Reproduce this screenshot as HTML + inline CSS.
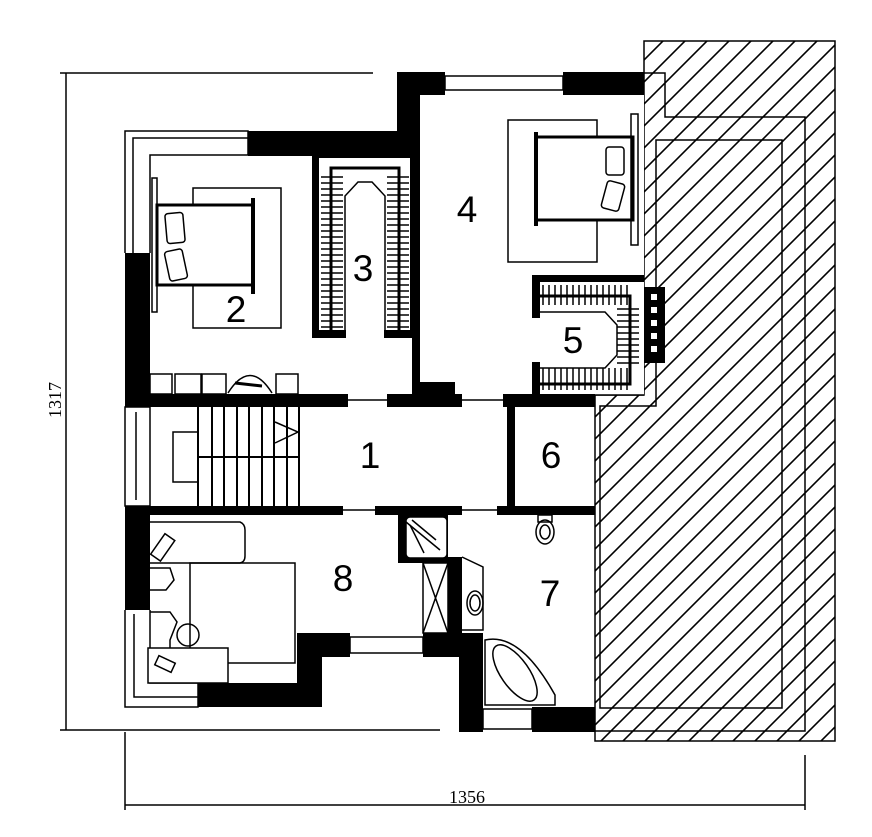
<!DOCTYPE html>
<html><head><meta charset="utf-8"><style>
html,body{margin:0;padding:0;background:#fff;}
svg{display:block;}
.n{font-family:"Liberation Sans",sans-serif;font-size:37px;fill:#000;text-anchor:middle;}
.d{font-family:"Liberation Serif",serif;font-size:18px;fill:#000;text-anchor:middle;}
</style></head><body>
<svg width="872" height="837" viewBox="0 0 872 837" xmlns="http://www.w3.org/2000/svg">
<defs>
<pattern id="h" patternUnits="userSpaceOnUse" width="22" height="22">
<path d="M-2,24 L24,-2 M-2,2 L2,-2 M20,24 L24,20" stroke="#000" stroke-width="1.6"/>
</pattern>
<pattern id="th" patternUnits="userSpaceOnUse" width="30" height="6">
<path d="M0,3 H30" stroke="#000" stroke-width="1.5"/>
</pattern>
<pattern id="tv" patternUnits="userSpaceOnUse" width="6" height="30">
<path d="M3,0 V30" stroke="#000" stroke-width="1.5"/>
</pattern>
</defs>
<g stroke="#000" stroke-width="1.5" fill="none">
<line x1="60" y1="73" x2="373" y2="73"/>
<line x1="60" y1="730" x2="440" y2="730"/>
<line x1="66" y1="73" x2="66" y2="730"/>
<line x1="125" y1="732" x2="125" y2="810"/>
<line x1="805" y1="755" x2="805" y2="810"/>
<line x1="125" y1="805" x2="805" y2="805"/>
<polygon points="644,41 835,41 835,741 595,741 595,395 644,395" fill="url(#h)"/>
<polyline points="644,73 665,73 665,117 805,117 805,731 595,731"/>
<polygon points="656,140 782,140 782,708 600,708 600,406 656,406" />
</g>
<g fill="#fff">
<rect x="420" y="95" width="224" height="300"/>
<rect x="532" y="275" width="112" height="120"/>
</g>
<g fill="#000">
<rect x="397" y="72" width="48" height="23"/>
<rect x="563" y="72" width="81" height="23"/>
<rect x="397" y="72" width="23" height="85"/>
<rect x="412" y="150" width="8" height="245"/>
<rect x="248" y="131" width="172" height="25"/>
<rect x="125" y="253" width="25" height="154"/>
<rect x="125" y="394" width="223" height="13"/>
<rect x="387" y="394" width="75" height="13"/>
<rect x="503" y="394" width="92" height="13"/>
<rect x="417" y="382" width="38" height="13"/>
<rect x="125" y="506" width="218" height="9"/>
<rect x="375" y="506" width="87" height="9"/>
<rect x="497" y="506" width="98" height="9"/>
<rect x="507" y="407" width="8" height="100"/>
<rect x="125" y="506" width="25" height="104"/>
<rect x="198" y="683" width="124" height="24"/>
<rect x="297" y="633" width="25" height="74"/>
<rect x="297" y="633" width="53" height="24"/>
<rect x="423" y="633" width="39" height="24"/>
<rect x="448" y="557" width="14" height="100"/>
<rect x="459" y="633" width="24" height="99"/>
<rect x="398" y="514" width="50" height="49"/>
<rect x="532" y="707" width="63" height="25"/>
<rect x="312" y="156" width="100" height="182"/>
<rect x="532" y="275" width="112" height="7"/>
<rect x="532" y="275" width="8" height="43"/>
<rect x="532" y="362" width="8" height="33"/>
<rect x="644" y="287" width="21" height="76"/>
</g>
<g fill="#fff">
<rect x="651" y="294" width="6" height="6"/><rect x="651" y="307" width="6" height="6"/><rect x="651" y="320" width="6" height="6"/><rect x="651" y="333" width="6" height="6"/><rect x="651" y="346" width="6" height="6"/>
<rect x="319" y="158" width="91" height="172"/>
<rect x="346" y="190" width="38" height="148"/>
<rect x="406" y="517" width="41" height="41" rx="4" stroke="#000" stroke-width="1.5"/>
</g>
<g stroke="#000" stroke-width="1.5" fill="none">
<line x1="595" y1="395" x2="644" y2="395"/>
<rect x="321" y="175" width="22" height="155" fill="url(#th)" stroke="none"/>
<rect x="387" y="175" width="22" height="155" fill="url(#th)" stroke="none"/>
<polyline points="331,330 331,168 399,168 399,330" stroke-width="3"/>
<polyline points="345,330 345,196 358,182 372,182 385,196 385,330" />
<rect x="542" y="285" width="88" height="20" fill="url(#tv)" stroke="none"/>
<rect x="542" y="368" width="88" height="22" fill="url(#tv)" stroke="none"/>
<rect x="617" y="305" width="22" height="63" fill="url(#th)" stroke="none"/>
<polyline points="540,296 630,296 630,384 540,384" stroke-width="3"/>
<polyline points="540,312 605,312 617,325 617,355 605,368 540,368"/>
<rect x="445" y="76" width="118" height="14"/>
<rect x="350" y="637" width="73" height="16"/>
<rect x="483" y="709" width="49" height="20"/>
<polyline points="125,253 125,131 248,131 248,155 150,155 150,253"/>
<polyline points="133,253 133,138 248,138"/>
<rect x="125" y="407" width="25" height="99"/>
<line x1="136" y1="412" x2="136" y2="500"/>
<polyline points="125,610 125,707 198,707 198,683 150,683 150,610"/>
<polyline points="134,614 134,697 198,697"/>
<line x1="348" y1="400" x2="387" y2="400"/>
<line x1="462" y1="400" x2="503" y2="400"/>
<line x1="343" y1="510" x2="375" y2="510"/>
<line x1="462" y1="510" x2="497" y2="510"/>
<line x1="511" y1="407" x2="511" y2="440"/>
<path d="M198,407 V506 M212,407 V506 M224,407 V506 M237,407 V506 M249,407 V506 M262,407 V506 M274,407 V506 M287,407 V506 M299,407 V506 M198,457 H299" stroke-width="2"/>
<polyline points="198,432 173,432 173,482 198,482"/>
<polyline points="275,422 298,432 275,443"/>
<rect x="193" y="188" width="88" height="140"/>
<rect x="157" y="205" width="96" height="80" fill="#fff" stroke-width="3"/>
<line x1="253" y1="198" x2="253" y2="294" stroke-width="4"/>
<rect x="152" y="178" width="5" height="134"/>
<rect x="166" y="213" width="18" height="30" rx="3" transform="rotate(-5 175 228)"/>
<rect x="167" y="250" width="18" height="30" rx="3" transform="rotate(-12 176 265)"/>
<rect x="150" y="374" width="22" height="20"/><rect x="175" y="374" width="26" height="20"/>
<rect x="202" y="374" width="24" height="20"/><rect x="276" y="374" width="22" height="20"/>
<path d="M228,393 Q250,358 272,393"/><line x1="235" y1="383" x2="262" y2="386" stroke-width="3"/>
<rect x="508" y="120" width="89" height="142"/>
<rect x="536" y="137" width="97" height="83" fill="#fff" stroke-width="3"/>
<line x1="536" y1="132" x2="536" y2="226" stroke-width="4"/>
<rect x="631" y="114" width="7" height="131"/>
<rect x="606" y="147" width="18" height="28" rx="3"/>
<rect x="604" y="182" width="18" height="28" rx="3" transform="rotate(15 613 196)"/>
<rect x="190" y="563" width="105" height="100"/>
<path d="M150,522 H240 Q245,524 245,530 V556 Q245,562 240,563 H150"/>
<rect x="148" y="648" width="80" height="35" fill="#fff"/>
<rect x="157" y="535" width="12" height="25" transform="rotate(35 163 547)"/>
<path d="M150,568 H170 L174,580 L166,590 H150"/>
<path d="M150,612 H170 L177,622 L170,640 V648"/>
<circle cx="188" cy="635" r="11"/>
<rect x="156" y="659" width="18" height="10" transform="rotate(25 165 664)"/>
<line x1="406" y1="522" x2="440" y2="550"/><line x1="412" y1="520" x2="436" y2="540"/><line x1="410" y1="525" x2="424" y2="553"/>
<rect x="423" y="563" width="25" height="70"/>
<path d="M423,563 L448,633 M448,563 L423,633"/>
<path d="M462,557 L483,567 V630 H462"/>
<ellipse cx="475" cy="603" rx="8" ry="12"/><ellipse cx="475" cy="603" rx="5" ry="8"/>
<path d="M485,705 V640 Q520,632 555,695 V705 Z"/>
<ellipse cx="515" cy="673" rx="14" ry="33" transform="rotate(-35 515 673)"/>
<rect x="538" y="515" width="14" height="7"/>
<ellipse cx="545" cy="532" rx="9" ry="12"/><ellipse cx="545" cy="532" rx="5" ry="7"/>
</g>
<text class="n" x="370" y="468">1</text>
<text class="n" x="236" y="322">2</text>
<text class="n" x="363" y="281">3</text>
<text class="n" x="467" y="222">4</text>
<text class="n" x="573" y="353">5</text>
<text class="n" x="551" y="468">6</text>
<text class="n" x="550" y="606">7</text>
<text class="n" x="343" y="591">8</text>
<text class="d" x="467" y="803">1356</text>
<text class="d" x="0" y="0" transform="translate(61,400) rotate(-90)">1317</text>
</svg>
</body></html>
